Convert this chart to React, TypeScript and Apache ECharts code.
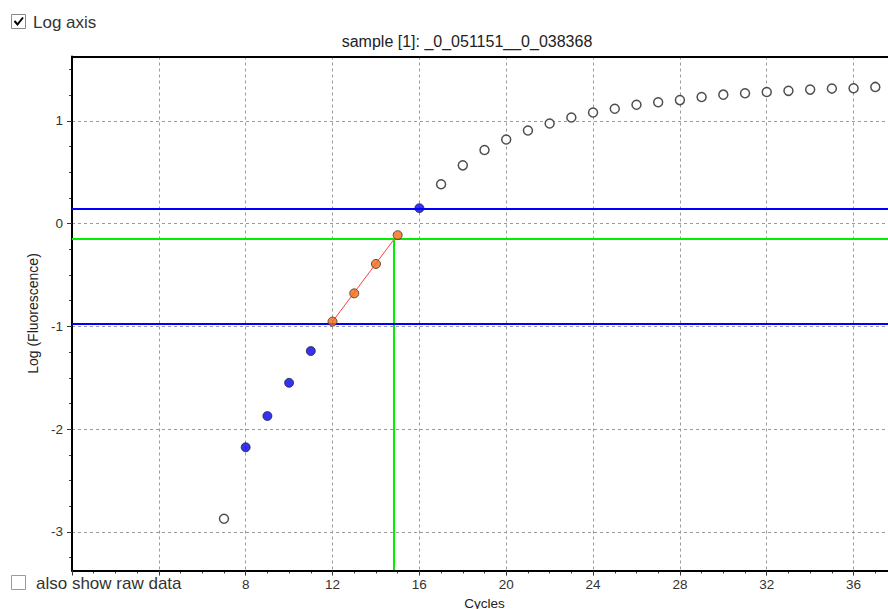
import React, { useEffect, useRef } from "react";
import * as echarts from "echarts";

// ---- data ----
const grayCycles = [7, 17, 18, 19, 20, 21, 22, 23, 24, 25, 26, 27, 28, 29, 30, 31, 32, 33, 34, 35, 36, 37];
const grayLog = [-2.872, 0.382, 0.566, 0.716, 0.817, 0.905, 0.973, 1.032, 1.08, 1.117, 1.155, 1.18, 1.201, 1.231, 1.254, 1.267, 1.28, 1.291, 1.303, 1.313, 1.316, 1.329];
const blueCycles = [8, 9, 10, 11, 16];
const blueLog = [-2.176, -1.872, -1.549, -1.24, 0.15];
const orangeCycles = [12, 13, 14, 15];
const orangeLog = [-0.954, -0.679, -0.393, -0.113];
const upperLimit = 0.145;
const lowerLimit = -0.968;
const threshold = -0.154;
const ctCycle = 14.83;
const fitStart = [12, -0.954];
const firstShownXLabel = 8; // labels below this are hidden behind the checkbox control

const XMIN = 0;
const XMAX = 38;
const YMIN = -3.375;
const YMAX = 1.625;

const FONT = "'Liberation Sans', Arial, sans-serif";
const pairs = (xs: number[], ys: number[]) => xs.map((x, i) => [x, ys[i]]);

export default function App() {
  const ref = useRef<HTMLDivElement>(null);
  useEffect(() => {
    if (!ref.current) return;
    const chart = echarts.init(ref.current, undefined, { renderer: "svg" });
    const minorYCats = Array.from({ length: Math.round((YMAX - YMIN) / 0.25) }, (_, i) => String(i));
    const grid = "#9a9a9a";
    chart.setOption({
      animation: false,
      backgroundColor: "#fff",
      title: {
        text: "sample [1]: _0_051151__0_038368",
        left: 462,
        top: 28,
        textAlign: "center",
        textStyle: { fontFamily: FONT, fontSize: 16, fontWeight: "normal", color: "#222" },
      },
      grid: {
        left: 72,
        top: 56.5,
        right: -9,
        bottom: 38.5,
        show: false,
        containLabel: false,
        outerBoundsMode: "none",
      },
      xAxis: [
        {
          type: "value",
          min: XMIN,
          max: XMAX,
          interval: 4,
          name: "Cycles",
          nameLocation: "middle",
          nameGap: 26,
          nameTextStyle: { fontFamily: FONT, fontSize: 13.5, color: "#222" },
          z: 3,
          axisLine: { show: true, onZero: false, lineStyle: { color: "#000", width: 2 } },
          axisTick: { show: true, length: 5, lineStyle: { color: "#333" } },
          axisLabel: {
            margin: 7,
            fontFamily: FONT,
            fontSize: 13.5,
            color: "#333",
            showMaxLabel: false,
            formatter: (v: number) => (v < firstShownXLabel ? "" : String(v)),
          },
          splitLine: { show: true, lineStyle: { color: grid, width: 1, type: [3, 3] } },
        },
        {
          type: "value",
          min: XMIN,
          max: XMAX,
          interval: 1,
          position: "bottom",
          axisLine: { show: false, onZero: false },
          axisTick: { show: true, length: 3, lineStyle: { color: "#444" } },
          axisLabel: { show: false },
          splitLine: { show: false },
        },
        {
          type: "value",
          min: XMIN,
          max: XMAX,
          position: "top",
          z: 5,
          axisLine: { show: true, onZero: false, lineStyle: { color: "#000", width: 2 } },
          axisTick: { show: false },
          axisLabel: { show: false },
          splitLine: { show: false },
        },
      ],
      yAxis: [
        {
          type: "value",
          min: YMIN,
          max: YMAX,
          splitNumber: 5,
          name: "Log (Fluorescence)",
          nameLocation: "middle",
          nameGap: 25,
          nameTextStyle: { fontFamily: FONT, fontSize: 14, color: "#222" },
          z: 3,
          axisLine: { show: true, onZero: false, lineStyle: { color: "#000", width: 2 } },
          axisTick: { show: true, length: 5, lineStyle: { color: "#333" } },
          axisLabel: { margin: 9, fontFamily: FONT, fontSize: 13.5, color: "#333", showMinLabel: false, showMaxLabel: false },
          splitLine: { show: true, lineStyle: { color: grid, width: 1, type: [3, 3] } },
        },
        {
          type: "category",
          data: minorYCats,
          position: "left",
          offset: 0,
          boundaryGap: true,
          axisLine: { show: false, onZero: false },
          axisTick: { show: true, length: 3, interval: 0, alignWithLabel: true, lineStyle: { color: "#444" } },
          axisLabel: { show: false, interval: 0 },
          splitLine: { show: false },
        },
      ],
      series: [
        {
          type: "line",
          name: "fit",
          data: [fitStart, [ctCycle, threshold]],
          showSymbol: false,
          symbol: "none",
          z: 2,
          lineStyle: { color: "#ff4040", width: 1 },
          markLine: {
            silent: true,
            symbol: ["none", "none"],
            label: { show: false },
            data: [
              { yAxis: upperLimit, lineStyle: { color: "#0000ff", width: 2, type: "solid" } },
              { yAxis: lowerLimit, lineStyle: { color: "#0000ff", width: 2, type: "solid" } },
              { yAxis: threshold, lineStyle: { color: "#00ee00", width: 2, type: "solid" } },
            ],
          },
        },
        {
          type: "line",
          name: "ct",
          data: [[ctCycle, threshold], [ctCycle, YMIN]],
          symbol: "none",
          z: 2,
          lineStyle: { color: "#00ee00", width: 2 },
        },
        {
          type: "scatter",
          name: "unused",
          data: pairs(grayCycles, grayLog),
          symbol: "circle",
          symbolSize: 9,
          z: 4,
          itemStyle: { color: "#fff", borderColor: "#222", borderWidth: 1.5 },
        },
        {
          type: "scatter",
          name: "baseline",
          data: pairs(blueCycles, blueLog),
          symbol: "circle",
          symbolSize: 9,
          z: 4,
          itemStyle: { color: "#0000ee", borderColor: "#111", borderWidth: 0.8 },
        },
        {
          type: "scatter",
          name: "window",
          data: pairs(orangeCycles, orangeLog),
          symbol: "circle",
          symbolSize: 9,
          z: 5,
          itemStyle: { color: "#f56a10", borderColor: "#333", borderWidth: 1 },
        },
      ],
      graphic: [
        { type: "rect", z: 100, shape: { x: 11.5, y: 14.5, width: 14, height: 14 }, style: { fill: "#fff", stroke: "#8a8a8a", lineWidth: 1 } },
        { type: "polyline", z: 101, shape: { points: [[14.5, 21], [17.5, 24.5], [23, 17.5]] }, style: { stroke: "#000", lineWidth: 2, fill: "none" } },
        { type: "text", z: 100, x: 33, y: 22, style: { text: "Log axis", fontFamily: FONT, fontSize: 17, fill: "#333", textVerticalAlign: "middle", textAlign: "left" } },
        { type: "rect", z: 100, shape: { x: 11.5, y: 575.5, width: 14, height: 14 }, style: { fill: "#fff", stroke: "#9a9a9a", lineWidth: 1 } },
        { type: "text", z: 100, x: 36, y: 583, style: { text: "also show raw data", fontFamily: FONT, fontSize: 17, fill: "#333", textVerticalAlign: "middle", textAlign: "left" } },
      ],
    });
    return () => chart.dispose();
  }, []);
  return <div ref={ref} style={{ position: "absolute", left: 0, top: 0, width: 888, height: 609 }} />;
}
